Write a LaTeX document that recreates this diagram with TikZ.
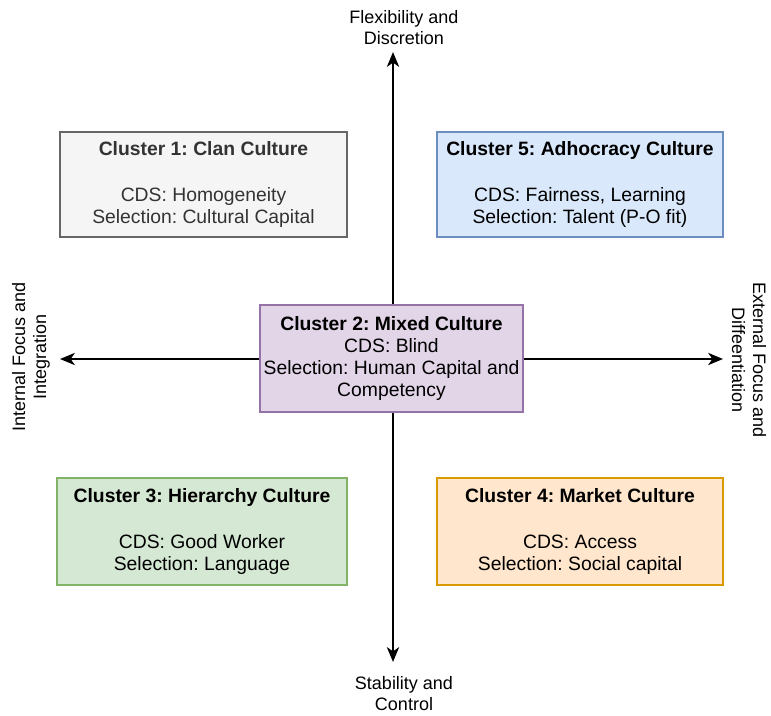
\documentclass[tikz,border=0pt]{standalone}
\usepackage{fontspec}
\setmainfont{Liberation Sans}
\usetikzlibrary{arrows.meta}
\frenchspacing
\definecolor{gfill}{HTML}{F5F5F5}
\definecolor{gdraw}{HTML}{666666}
\definecolor{gtext}{HTML}{333333}
\definecolor{bfill}{HTML}{DAE8FC}
\definecolor{bdraw}{HTML}{6C8EBF}
\definecolor{pfill}{HTML}{E1D5E7}
\definecolor{pdraw}{HTML}{9673A6}
\definecolor{grfill}{HTML}{D5E8D4}
\definecolor{grdraw}{HTML}{82B366}
\definecolor{ofill}{HTML}{FFE6CC}
\definecolor{odraw}{HTML}{D79B00}
\begin{document}
\frenchspacing
\begin{tikzpicture}[x=0.75pt,y=-0.75pt,
  box/.style={draw, line width=1.1pt, align=center, inner sep=0pt, font=\fontsize{14.5}{16.5}\selectfont},
  lbl/.style={align=center, font=\fontsize{13.5}{15.75}\selectfont, inner sep=0pt},
  axis/.style={line width=2.1pt, -{Stealth[length=11pt,width=9pt,inset=3pt]}}]
\useasboundingbox (0,0) rectangle (771,715);
\node[box, fill=gfill, draw=gdraw, text=gtext, minimum width=215.25pt, minimum height=78.75pt] (c1) at (203.5,184.5)
  {\textbf{Cluster 1: Clan Culture}\\[18pt]CDS: Homogeneity\\Selection: Cultural Capital};
\node[box, fill=bfill, draw=bdraw, minimum width=214.5pt, minimum height=78.75pt] (c5) at (580,184.5)
  {\textbf{Cluster 5: Adhocracy Culture}\\[18pt]CDS: Fairness, Learning\\Selection: Talent (P-O fit)};
\node[box, fill=grfill, draw=grdraw, minimum width=217.5pt, minimum height=80.25pt] (c3) at (202,531.5)
  {\textbf{Cluster 3: Hierarchy Culture}\\[18pt]CDS: Good Worker\\Selection: Language};
\node[box, fill=ofill, draw=odraw, minimum width=214.5pt, minimum height=80.25pt] (c4) at (580,531.5)
  {\textbf{Cluster 4: Market Culture}\\[18pt]CDS: Access\\Selection: Social capital};
\node[box, fill=pfill, draw=pdraw, minimum width=197.25pt, minimum height=80.25pt] (c2) at (391.5,358.5)
  {\textbf{Cluster 2: Mixed Culture}\\CDS: Blind\\Selection: Human Capital and\\Competency};
\coordinate (top) at (393,52);
\coordinate (bot) at (393,662);
\coordinate (lft) at (60,359);
\coordinate (rgt) at (723,359);
\draw[axis] (c2.north -| top) -- (top);
\draw[axis] (c2.south -| bot) -- (bot);
\draw[axis] (c2.west |- lft) -- (lft);
\draw[axis] (c2.east |- rgt) -- (rgt);
\node[lbl] (ltop) at (404,27.5) {Flexibility and\\Discretion};
\node[lbl] (lbot) at (404,694) {Stability and\\Control};
\node[lbl, rotate=90] (lleft) at (31,357) {Internal Focus and\\Integration};
\node[lbl, rotate=-90] (lright) at (749,360) {External Focus and\\Diffeentiation};
\end{tikzpicture}
\end{document}
